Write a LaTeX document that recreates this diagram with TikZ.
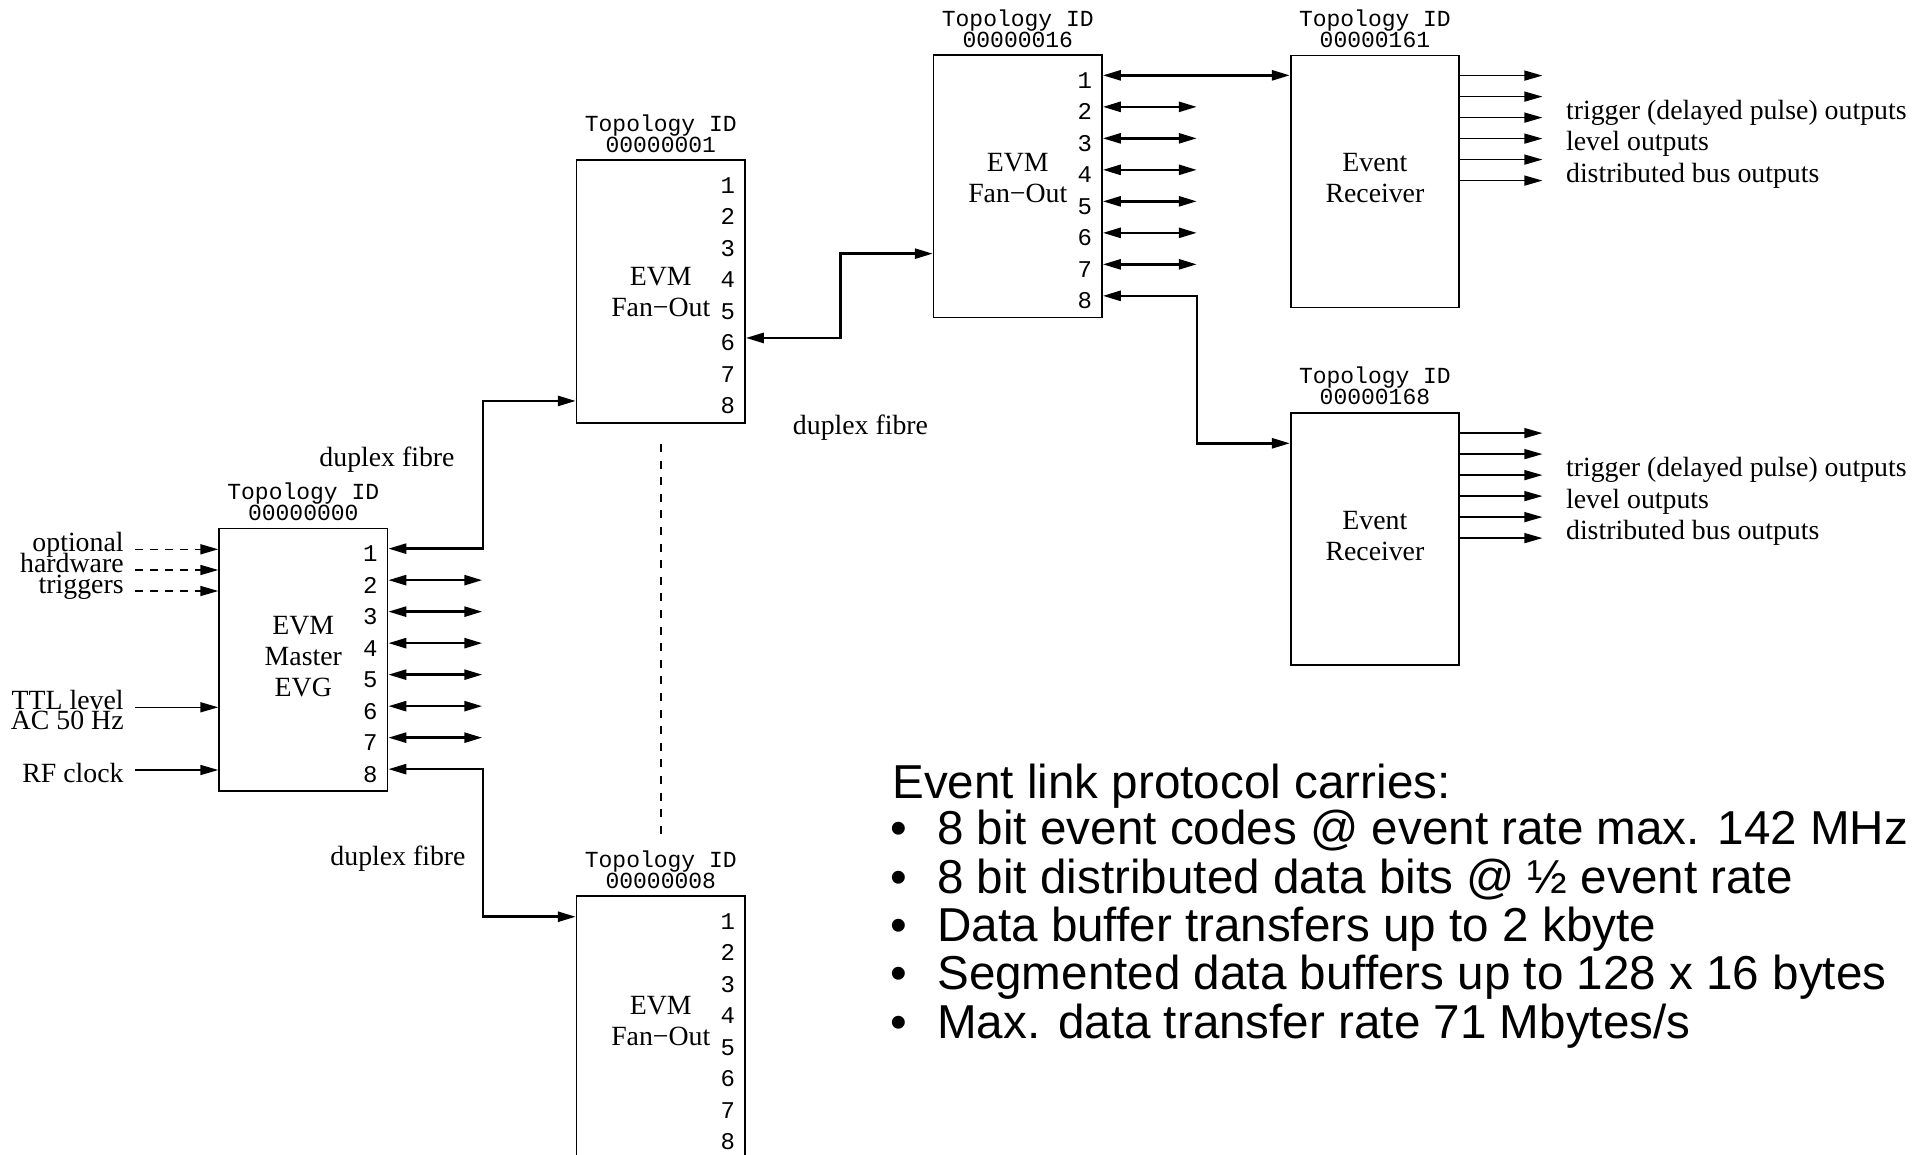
\documentclass[tikz,border=0pt]{standalone}
\usepackage{fontspec}
\setmainfont{Liberation Serif}
\newfontfamily\courfont{Liberation Mono}
\newfontfamily\arialfont{Liberation Sans}
\usetikzlibrary{arrows.meta,calc}
\tikzset{
  evbox/.style={draw, line width=0.8pt, inner sep=0pt, minimum width=84.2pt, minimum height=131.25pt, align=center, text depth=3pt, font=\fontsize{13.9pt}{15.5pt}\selectfont},
  erbox/.style={evbox, minimum height=126pt},
  topo/.style={font=\courfont\fontsize{11.5pt}{11.5pt}\selectfont, anchor=base, inner sep=0pt},
  pnum/.style={font=\courfont\fontsize{12pt}{12pt}\selectfont, anchor=base, inner sep=0pt},
  lbl/.style={font=\fontsize{13.9pt}{15.5pt}\selectfont, inner sep=0pt},
  bigtxt/.style={font=\arialfont\fontsize{23.8pt}{24pt}\selectfont, inner sep=0pt, anchor=base west},
  duplex/.style={line width=1.3pt, {Triangle[length=9pt,width=5pt]}-{Triangle[length=9pt,width=5pt]}},
  outarr/.style={line width=0.7pt, -{Triangle[length=9pt,width=5pt]}},
  inarr/.style={line width=0.8pt, -{Triangle[length=9pt,width=5pt]}},
  dasharr/.style={inarr, dash pattern=on 4.2pt off 3.3pt},
  vdash/.style={line width=0.7pt, dash pattern=on 4pt off 4.3pt},
}
\newcommand\evports[1]{%
  \foreach \k in {1,...,8}{%
    \coordinate (#1-p\k) at ($(#1.north east)+(0,{21+31.5*(\k-1)})$);
    \node[pnum] (#1-n\k) at ($(#1-p\k)+(-18,13)$) {\k};
  }}
\newcommand\topoid[2]{%
  \node[topo] (#1-t1) at ($(#1.north)+(0,-28.2)$) {Topology ID};
  \node[topo] (#1-t2) at ($(#1.north)+(0,-7.2)$) {#2};}
\begin{document}
\begin{tikzpicture}[x=0.5pt,y=-0.5pt]
\useasboundingbox (0,0) rectangle (1929,1155);
\fill[white] (0,0) rectangle (1929,1155);
\clip (0,0) rectangle (1929,1155);

% boxes
\node[evbox] (m) at (303.3,659.7) {EVM\\Master\\EVG};
\node[evbox, text depth=-4.5pt] (f1) at (660.8,291.5) {EVM\\Fan−Out};
\node[evbox, text depth=8pt] (f16) at (1017.8,186.4) {EVM\\Fan−Out};
\node[evbox, text depth=6pt] (f8) at (660.8,1027.3) {EVM\\Fan−Out};
\node[erbox] (e1) at (1374.9,181.4) {Event\\Receiver};
\node[erbox] (e2) at (1374.9,538.9) {Event\\Receiver};

% ports and IDs
\evports{m}
\evports{f1}
\evports{f16}
\evports{f8}
\topoid{m}{00000000}
\topoid{f1}{00000001}
\topoid{f16}{00000016}
\topoid{f8}{00000008}
\topoid{e1}{00000161}
\topoid{e2}{00000168}

% short duplex stubs
\foreach \k in {2,...,7}{
  \coordinate (m-q\k) at ($(m-p\k)+(94,0)$);
  \draw[duplex] (m-p\k) -- (m-q\k);
  \coordinate (f16-q\k) at ($(f16-p\k)+(94,0)$);
  \draw[duplex] (f16-p\k) -- (f16-q\k);
}

% entry points
\coordinate (f1in) at ($(f1.north west)+(0,241.5)$);
\coordinate (f8in) at ($(f8.north west)+(0,21.5)$);
\coordinate (f16in) at ($(f16.north west)+(0,199.3)$);
\coordinate (e2in) at ($(e2.north west)+(0,31.2)$);

% fibre links
\draw[duplex] (m-p1) -- ++(94.5,0) |- (f1in);
\draw[duplex] (m-p8) -- ++(94.5,0) |- (f8in);
\draw[duplex] (f1-p6) -- ++(94.5,0) |- (f16in);
\draw[duplex] (f16-p1) -- (f16-p1 -| e1.west);
\draw[duplex] (f16-p8) -- ++(94,0) |- (e2in);

% receiver outputs
\foreach \b in {e1,e2}{
  \foreach \j in {1,...,6}{
    \coordinate (\b-o\j) at ($(\b.north east)+(0,{21*\j})$);
    \coordinate (\b-x\j) at ($(\b-o\j)+(82.5,0)$);
    \draw[outarr] (\b-o\j) -- (\b-x\j);
  }
  \node[lbl, anchor=base west] (\b-l1) at ($(\b.north east)+(105.8,64.8)$) {trigger (delayed pulse) outputs};
  \node[lbl, anchor=base west] (\b-l2) at ($(\b.north east)+(105.8,96.3)$) {level outputs};
  \node[lbl, anchor=base west] (\b-l3) at ($(\b.north east)+(105.8,127.6)$) {distributed bus outputs};
}

% master inputs
\coordinate (s1) at (135,549.3);
\coordinate (s2) at (135,570);
\coordinate (s3) at (135,591);
\coordinate (s4) at (135,707.3);
\coordinate (s5) at (135,770);
\draw[dasharr] (s1) -- (s1 -| m.west);
\draw[dasharr] (s2) -- (s2 -| m.west);
\draw[dasharr] (s3) -- (s3 -| m.west);
\draw[inarr] (s4) -- (s4 -| m.west);
\draw[inarr] (s5) -- (s5 -| m.west);
\node[lbl, anchor=base east] (i1) at (124,551.8) {optional};
\node[lbl, anchor=base east] (i2) at (124,572.5) {hardware};
\node[lbl, anchor=base east] (i3) at (124,593.2) {triggers};
\node[lbl, anchor=base east] (i4) at (124,709) {TTL level};
\node[lbl, anchor=base east] (i5) at (124,729) {AC 50 Hz};
\node[lbl, anchor=base east] (i6) at (124,782.5) {RF clock};

% duplex fibre labels
\node[lbl, anchor=base] (d1) at (387,466.5) {duplex fibre};
\node[lbl, anchor=base] (d2) at (398,865.5) {duplex fibre};
\node[lbl, anchor=base] (d3) at (860.5,434.8) {duplex fibre};

% vertical dashed continuation
\coordinate (v1) at ($(f1.south)+(0,20.5)$);
\coordinate (v2) at ($(f8.north)+(0,-58)$);
\draw[vdash] (v1) -- (v2);

% protocol text
\node[bigtxt] (pl0) at (892,798.2) {Event link protocol carries:};
\node[bigtxt] (bl1) at (890,844.8) {•};
\node[bigtxt] (pl1) at (936.9,844.8) {8 bit event codes @ event rate max. 142 MHz};
\node[bigtxt] (bl2) at (890,893.2) {•};
\node[bigtxt] (pl2) at (936.9,893.2) {8 bit distributed data bits @ ½ event rate};
\node[bigtxt] (bl3) at (890,941.5) {•};
\node[bigtxt] (pl3) at (936.9,941.5) {Data buffer transfers up to 2 kbyte};
\node[bigtxt] (bl4) at (890,989.8) {•};
\node[bigtxt] (pl4) at (936.9,989.8) {Segmented data buffers up to 128 x 16 bytes};
\node[bigtxt] (bl5) at (890,1038.2) {•};
\node[bigtxt] (pl5) at (936.9,1038.2) {Max. data transfer rate 71 Mbytes/s};
\end{tikzpicture}
\end{document}
